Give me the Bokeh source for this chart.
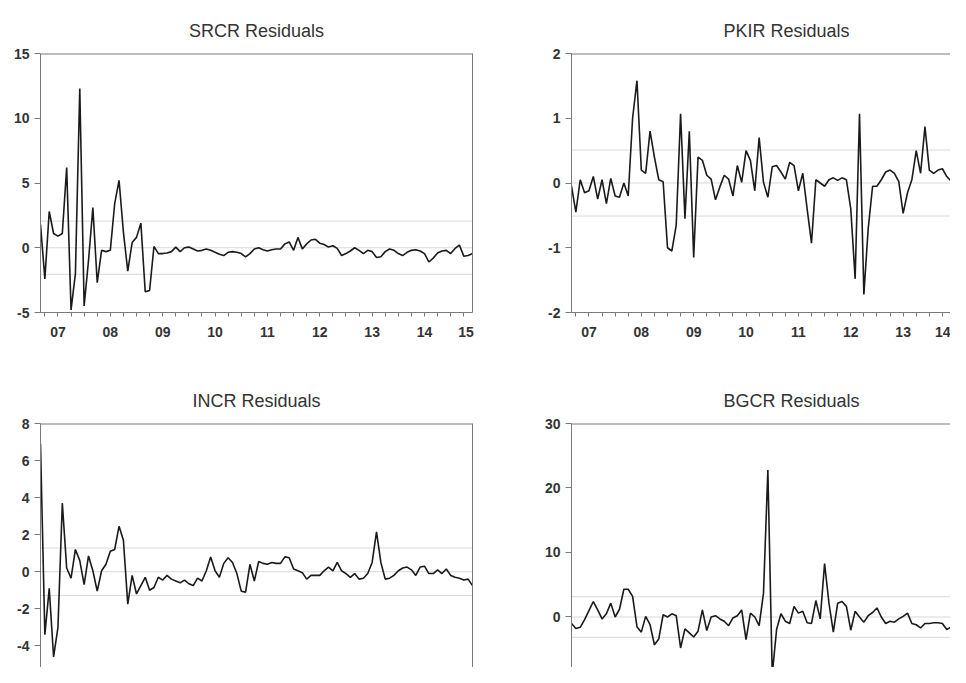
from bokeh.plotting import figure
from bokeh.layouts import column, row
from bokeh.models import LinearAxis, FixedTicker, Span, Range1d, ColumnDataSource
from bokeh.embed import file_html
from bokeh.resources import INLINE

# ---------------- data (monthly residuals, first observation 2007M03) ----------------
START_YEAR = 2007
START_MONTH = 3

srcr = [1.8, -2.4, 2.8, 1.1, 0.9, 1.1, 6.2, -4.8, -2.0, 12.3,
        -4.5, -1.0, 3.1, -2.7, -0.2, -0.3, -0.2, 3.4, 5.2, 1.2,
        -1.8, 0.4, 0.8, 1.9, -3.4, -3.3, 0.1,
        -0.45, -0.45, -0.4, -0.3, 0.05, -0.3, 0.0, 0.05, -0.1, -0.25,
        -0.2, -0.1, -0.2, -0.35, -0.5, -0.6, -0.35, -0.3, -0.35, -0.45,
        -0.7, -0.45, -0.1, 0.0, -0.15, -0.25, -0.15, -0.1, -0.1, 0.3,
        0.45, -0.2, 0.8, -0.1, 0.3, 0.6, 0.65, 0.35, 0.25, 0.05,
        0.15, -0.05, -0.6, -0.45, -0.25, 0.0, -0.2, -0.45, -0.2, -0.3,
        -0.75, -0.7, -0.3, -0.1, -0.2, -0.45, -0.6, -0.35, -0.2, -0.15,
        -0.25, -0.45, -1.1, -0.8, -0.4, -0.25, -0.2, -0.45, -0.05, 0.2,
        -0.65, -0.6, -0.45]

pkir = [-0.05, -0.45, 0.05, -0.15, -0.12, 0.1, -0.25, 0.05, -0.32, 0.07,
        -0.2, -0.22, 0.0, -0.2, 1.0, 1.58, 0.2, 0.15, 0.8, 0.4,
        0.05, 0.02, -1.0, -1.05, -0.65, 1.07, -0.55, 0.8, -1.15, 0.4,
        0.35, 0.12, 0.06, -0.26, -0.06, 0.12, 0.06, -0.2, 0.27, 0.01,
        0.5, 0.35, -0.12, 0.7, 0.01, -0.22, 0.25, 0.27, 0.17, 0.06,
        0.32, 0.27, -0.12, 0.15, -0.4, -0.93, 0.05, 0.0, -0.05, 0.05,
        0.08, 0.04, 0.08, 0.05, -0.4, -1.48, 1.07, -1.72, -0.7, -0.05,
        -0.05, 0.05, 0.17, 0.2, 0.15, 0.02, -0.47, -0.15, 0.05, 0.5,
        0.15, 0.87, 0.2, 0.15, 0.2, 0.22, 0.1, 0.03, 0.15, 0.2,
        0.15]

incr = [6.9, -3.4, -0.9, -4.6, -3.0, 3.7,
        0.2, -0.35, 1.2, 0.6, -0.7, 0.85, 0.05, -1.05, 0.05, 0.4,
        1.1, 1.2, 2.45, 1.7, -1.75, -0.2, -1.2, -0.75, -0.3, -1.0,
        -0.85, -0.3, -0.45, -0.2, -0.4, -0.5, -0.6, -0.45, -0.65, -0.75,
        -0.35, -0.5, 0.05, 0.8, 0.05, -0.3, 0.45, 0.75, 0.5, -0.1,
        -1.05, -1.1, 0.4, -0.5, 0.55, 0.45, 0.4, 0.5, 0.45, 0.45,
        0.8, 0.75, 0.15, 0.05, -0.05, -0.4, -0.2, -0.2, -0.2, 0.05,
        0.25, 0.05, 0.5, 0.05, -0.1, -0.3, -0.1, -0.4, -0.35, -0.1,
        0.5, 2.15, 0.5, -0.4, -0.35, -0.2, 0.05, 0.2, 0.25, 0.1,
        -0.2, 0.25, 0.3, -0.1, -0.1, 0.1, -0.1, 0.15, -0.2, -0.3,
        -0.35, -0.45, -0.4, -0.75]

bgcr = [-1.0, -1.8, -1.6, -0.4, 1.0, 2.4, 1.1, -0.3, 0.5, 2.15,
        0.0, 1.2, 4.3, 4.3, 3.2, -1.5, -2.35, 0.1, -1.2, -4.3,
        -3.4, 0.35, 0.0, 0.5, 0.2, -4.8, -1.85, -2.45, -3.1, -2.2,
        1.1, -2.1, 0.0, 0.2, -0.3, -0.65, -1.35, -0.15, 0.2, 1.1,
        -3.5, 0.6, 0.0, -1.35, 3.7, 22.8, -8.9, -1.95, 0.5, -0.65,
        -1.0, 1.65, 0.6, 0.9, -0.9, -1.0, 2.55, -0.3, 8.3, 2.15,
        -2.35, 2.15, 2.4, 1.65, -2.05, 0.9, 0.0, -0.8, 0.2, 0.7,
        1.4, 0.0, -1.0, -0.65, -0.8, -0.3, 0.1, 0.6, -1.0, -1.2,
        -1.7, -1.0, -1.0, -0.9, -0.9, -1.0, -1.95, -1.55, -0.9, -1.35,
        -0.4, 0.6]

titles = ["SRCR Residuals", "PKIR Residuals", "INCR Residuals", "BGCR Residuals"]
y_ticks = [[-5, 0, 5, 10, 15], [-2, -1, 0, 1, 2],
           [-6, -4, -2, 0, 2, 4, 6, 8], [-10, 0, 10, 20, 30]]
y_limits = [(-5, 15), (-2, 2), (-5.17, 8), (-7.83, 30)]
bands = [2.05, 0.51, 1.28, 3.15]
year_labels = ["07", "08", "09", "10", "11", "12", "13", "14", "15"]
years = [2007, 2008, 2009, 2010, 2011, 2012, 2013, 2014, 2015]

# ---------------- style ----------------
FONT = "Liberation Sans"
AXIS_COLOR = "#7a7a7a"
TEXT_COLOR = "#333333"
N_FULL = 100
X0 = START_YEAR + (START_MONTH - 1) / 12.0
X1_FULL = X0 + (N_FULL - 1) / 12.0
PX_PER_YEAR = 432 / (X1_FULL - X0)


def month_x(n):
    return [X0 + i / 12.0 for i in range(n)]


def blank_axis():
    return LinearAxis(ticker=FixedTicker(ticks=[], minor_ticks=[]),
                      axis_line_color=AXIS_COLOR, axis_line_width=1,
                      major_tick_out=0, major_tick_in=0,
                      minor_tick_out=0, minor_tick_in=0,
                      major_label_standoff=0)


def make_panel(k, series, width, height, bl, br, bt, bb, frame_w,
               right_edge, bottom_axis):
    x_end = X0 + frame_w / PX_PER_YEAR
    y0, y1 = y_limits[k]
    p = figure(width=width, height=height, output_backend="svg",
               toolbar_location=None, x_range=Range1d(X0, x_end),
               y_range=Range1d(y0, y1), x_axis_location=None,
               y_axis_location=None, min_border_left=bl, min_border_right=br,
               min_border_top=bt, min_border_bottom=bb)
    p.grid.visible = False
    p.outline_line_color = None
    p.background_fill_color = "white"
    p.border_fill_color = "white"

    p.title.text = titles[k]
    p.title.align = "center"
    p.title.vertical_align = "bottom"
    p.title.text_font = FONT
    p.title.text_font_size = "18px"
    p.title.text_font_style = "normal"
    p.title.text_color = TEXT_COLOR
    p.title.standoff = 26
    if not right_edge:
        # cropped panel: the title sits at the centre of the full panel width
        p.title.align = "left"
        p.title.offset = 152

    # frame: top edge drawn as a span on the upper limit
    p.add_layout(Span(location=y1, dimension="width", line_color=AXIS_COLOR,
                      line_width=2))
    if right_edge:
        p.add_layout(blank_axis(), "right")

    yax = LinearAxis(ticker=FixedTicker(ticks=y_ticks[k], minor_ticks=[]),
                     major_label_overrides={t: str(t) for t in y_ticks[k]},
                     axis_line_color=AXIS_COLOR, major_tick_line_color=AXIS_COLOR,
                     major_tick_out=6, major_tick_in=0,
                     minor_tick_out=0, minor_tick_in=0,
                     major_label_text_font=FONT, major_label_text_font_size="14px",
                     major_label_text_font_style="bold",
                     major_label_text_color=TEXT_COLOR, major_label_standoff=5)
    p.add_layout(yax, "left")

    if bottom_axis:
        quarters = [y + q / 4.0 for y in years for q in (0, 1, 2, 3)
                    if X0 < y + q / 4.0 < x_end]
        pos, overrides = [], {}
        for y, lab in zip(years, year_labels):
            if y >= x_end:
                continue
            mid = y + 0.5
            if mid > x_end:
                mid = y + 0.7 * (x_end - y)
            mid = round(mid, 3)
            pos.append(mid)
            overrides[mid] = lab
        xax = LinearAxis(ticker=FixedTicker(ticks=pos, minor_ticks=quarters),
                         major_label_overrides=overrides,
                         axis_line_color=AXIS_COLOR,
                         major_tick_line_color=None,
                         minor_tick_line_color=AXIS_COLOR,
                         major_tick_out=0, major_tick_in=0,
                         minor_tick_out=4, minor_tick_in=0,
                         major_label_text_font=FONT,
                         major_label_text_font_size="14px",
                         major_label_text_font_style="bold",
                         major_label_text_color=TEXT_COLOR,
                         major_label_standoff=10)
        p.add_layout(xax, "below")

    for v in (bands[k], 0.0, -bands[k]):
        p.add_layout(Span(location=v, dimension="width", line_color="#d9d9d9",
                          line_width=1, level="underlay"))

    src = ColumnDataSource(dict(x=month_x(len(series)), y=series))
    p.line("x", "y", source=src, line_color="#1a1a1a", line_width=1.6)
    return p


# top row: figures 370 px high, frame 259 px (y 53..312)
p1 = make_panel(0, srcr, 508, 370, 40, 36, 53, 58, 432, True, True)
p2 = make_panel(1, pkir, 442, 370, 63, 0, 53, 58, 379, False, True)
# bottom row: figures 297 px high, frame runs to the bottom edge (clipped as in the reference)
p3 = make_panel(2, incr, 508, 297, 40, 36, 53, 0, 432, True, False)
p4 = make_panel(3, bgcr, 442, 297, 63, 0, 53, 0, 379, False, False)

layout = column(row(p1, p2), row(p3, p4))

open("out.html", "w").write(file_html(layout, INLINE))
